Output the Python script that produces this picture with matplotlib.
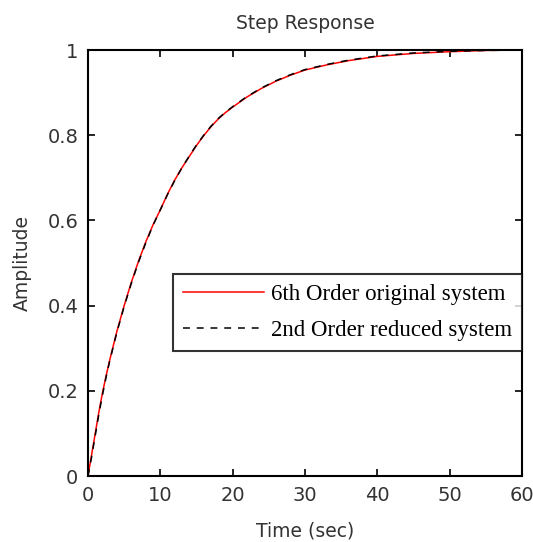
import matplotlib
matplotlib.use("Agg")
import matplotlib.pyplot as plt

# Data
time_orig = [0, 0.5, 1, 1.5, 2, 2.5, 3, 4, 5, 6, 7, 8, 9, 10, 11, 12, 13, 14,
             15, 16, 17, 18, 19, 20, 22, 24, 26, 28, 30, 33, 36, 40, 45, 50, 55, 60]
amp_orig = [0, 0.05, 0.10, 0.15, 0.195, 0.235, 0.272, 0.34, 0.40, 0.455, 0.505,
            0.55, 0.59, 0.625, 0.662, 0.695, 0.724, 0.75, 0.776, 0.799, 0.82,
            0.838, 0.853, 0.866, 0.89, 0.91, 0.927, 0.941, 0.953, 0.965, 0.975,
            0.985, 0.992, 0.996, 0.999, 1.0]
time_red = [0, 0.5, 1, 1.5, 2, 2.5, 3, 4, 5, 6, 7, 8, 9, 10, 11, 12, 13, 14,
            15, 16, 17, 18, 19, 20, 22, 24, 26, 28, 30, 33, 36, 40, 45, 50, 55, 60]
amp_red = [0, 0.045, 0.095, 0.145, 0.19, 0.232, 0.27, 0.338, 0.398, 0.453,
           0.503, 0.548, 0.589, 0.625, 0.661, 0.694, 0.724, 0.751, 0.777, 0.8,
           0.821, 0.839, 0.854, 0.867, 0.891, 0.911, 0.928, 0.942, 0.954, 0.966,
           0.976, 0.986, 0.993, 0.997, 0.999, 1.0]

x_ticks = [0, 10, 20, 30, 40, 50, 60]
y_ticks = [0, 0.2, 0.4, 0.6, 0.8, 1]
y_tick_labels = ["0", "0.2", "0.4", "0.6", "0.8", "1"]

label_orig = "6th Order original system"
label_red = "2nd Order reduced system"

fig = plt.figure(figsize=(5.33, 5.42), dpi=100)
ax = fig.add_axes([88 / 533, 66 / 542, 434 / 533, 426 / 542])

ax.plot(time_orig, amp_orig, color="red", lw=1.1, label=label_orig)
ax.plot(time_red, amp_red, color="black", lw=1.1, ls=(0, (4.5, 4.5)), label=label_red)

ax.set_xlim(0, 60)
ax.set_ylim(0, 1)
ax.set_xticks(x_ticks)
ax.set_xticklabels([str(v) for v in x_ticks])
ax.set_yticks(y_ticks)
ax.set_yticklabels(y_tick_labels)
ax.tick_params(direction="in", length=5, width=1.2, top=True, right=True,
               labelsize=14, colors="black", pad=7)
for lab in ax.get_xticklabels() + ax.get_yticklabels():
    lab.set_color("#333333")
for sp in ax.spines.values():
    sp.set_linewidth(1.5)

ax.set_title("Step Response", fontsize=13.5, color="#333333", pad=15)
ax.set_xlabel("Time (sec)", fontsize=13.5, color="#333333", labelpad=12)
ax.set_ylabel("Amplitude", fontsize=13.5, color="#333333", labelpad=11)

leg = ax.legend(loc="upper right", bbox_to_anchor=(1.0, (476 - 274) / 426),
                prop={"family": "Liberation Serif", "size": 16.5},
                frameon=True, fancybox=False, edgecolor="black",
                handlelength=3.5, borderpad=0.45, labelspacing=0.62,
                handletextpad=0.3, borderaxespad=0.0)
leg.get_frame().set_linewidth(1.5)

fig.savefig("out.png", dpi=100, facecolor="white")
